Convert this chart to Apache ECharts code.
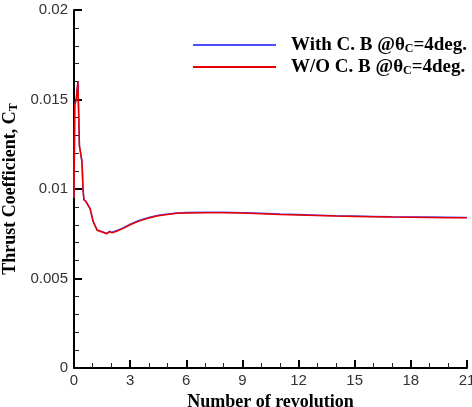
<!DOCTYPE html>
<html>
<head>
<meta charset="utf-8">
<script src="https://cdn.jsdelivr.net/npm/echarts@6/dist/echarts.min.js"></script>
<style>
  html, body { margin: 0; padding: 0; background: #fff; }
  #chart { width: 472px; height: 407px; }
</style>
</head>
<body>
<div id="chart"></div>
<script>
  // revolutions (x) and thrust coefficient
  const revs = [0, 0.04, 0.12, 0.21, 0.29, 0.34, 0.37, 0.43, 0.48, 0.53, 0.64, 0.75, 0.86, 1.02, 1.23, 1.5, 1.76, 1.9, 2.03, 2.3, 2.57,
    3, 3.5, 4, 4.5, 5, 5.5, 6, 7, 8, 9, 10, 11, 12, 13, 14, 15, 16, 17, 18, 19, 20, 21];
  const ctWithout = [0.0095, 0.0147, 0.0150, 0.0160, 0.0124, 0.0121, 0.0120, 0.0115, 0.0100, 0.0094, 0.0093, 0.0091, 0.0089, 0.0082, 0.0077, 0.0076, 0.0075, 0.00762, 0.00755, 0.00765, 0.00777,
    0.0080, 0.00822, 0.00838, 0.0085, 0.00858, 0.00864, 0.00866, 0.00868, 0.00868, 0.00866, 0.00862, 0.00858, 0.00855, 0.00852, 0.00849, 0.00847, 0.00845, 0.00843, 0.00842, 0.00841, 0.0084, 0.00839];
  const ctWith = [0.0095, 0.0147, 0.0150, 0.0160, 0.0124, 0.0121, 0.0120, 0.0115, 0.0100, 0.0094, 0.0093, 0.0091, 0.0089, 0.0082, 0.00772, 0.00762, 0.00752, 0.00764, 0.00758, 0.00768, 0.0078,
    0.00803, 0.00826, 0.00841, 0.00853, 0.00861, 0.00866, 0.00869, 0.0087, 0.0087, 0.00868, 0.00865, 0.0086, 0.00857, 0.00854, 0.00851, 0.00849, 0.00847, 0.00845, 0.00844, 0.00843, 0.00842, 0.00841];
  const xTicks = [0, 3, 6, 9, 12, 15, 18, 21];
  const yTicks = [0, 0.005, 0.01, 0.015, 0.02];

  const serif = '"Liberation Serif", "Times New Roman", serif';
  const sans = '"Liberation Sans", Arial, sans-serif';
  const subStyle = { fontFamily: serif, fontWeight: 'bold', fontSize: 12, padding: [7, 0, 0, 0] };

  const chart = echarts.init(document.getElementById('chart'));
  chart.setOption({
    animation: false,
    grid: { left: 74, right: 5, top: 10, bottom: 39, containLabel: false, outerBoundsMode: 'none' },
    legend: {
      orient: 'vertical',
      left: 192,
      top: 35,
      padding: 0,
      itemWidth: 83,
      itemHeight: 2,
      itemGap: 2,
      formatter: name => name.replace('θC', 'θ{s|C}'),
      textStyle: {
        fontFamily: serif, fontWeight: 'bold', fontSize: 19, color: '#000',
        lineHeight: 20, padding: [0, 0, 0, 10],
        rich: { s: subStyle }
      }
    },
    xAxis: {
      type: 'value',
      min: xTicks[0],
      max: xTicks[xTicks.length - 1],
      interval: 3,
      name: 'Number of revolution',
      nameLocation: 'middle',
      nameGap: 18,
      nameTextStyle: { fontFamily: serif, fontWeight: 'bold', fontSize: 18, color: '#000' },
      axisLine: { lineStyle: { color: '#000', width: 2 } },
      axisTick: { inside: true, length: 8, lineStyle: { color: '#000', width: 2 } },
      minorTick: { show: true, splitNumber: 3, length: 5, lineStyle: { color: '#222', width: 1 } },
      splitLine: { show: false },
      axisLabel: { fontFamily: sans, fontSize: 15, color: '#333', margin: 5 }
    },
    yAxis: {
      type: 'value',
      min: yTicks[0],
      max: yTicks[yTicks.length - 1],
      interval: 0.005,
      name: 'Thrust Coefficient, C{s|T}',
      nameLocation: 'middle',
      nameGap: 50,
      nameTextStyle: { fontFamily: serif, fontWeight: 'bold', fontSize: 18, color: '#000', rich: { s: subStyle } },
      axisLine: { show: true, lineStyle: { color: '#000', width: 2 } },
      axisTick: { show: true, inside: true, length: 8, lineStyle: { color: '#000', width: 2 } },
      minorTick: { show: true, splitNumber: 5, length: 5, lineStyle: { color: '#222', width: 1 } },
      splitLine: { show: false },
      axisLabel: {
        fontFamily: sans, fontSize: 15, color: '#333', margin: 6,
        formatter: v => String(parseFloat(v.toFixed(4)))
      }
    },
    series: [
      {
        name: 'With C. B @θC=4deg.',
        type: 'line',
        symbol: 'none',
        data: revs.map((r, i) => [r, ctWith[i]]),
        lineStyle: { color: '#4b4bff', width: 1.5 },
        itemStyle: { color: '#4b4bff' }
      },
      {
        name: 'W/O C. B @θC=4deg.',
        type: 'line',
        symbol: 'none',
        data: revs.map((r, i) => [r, ctWithout[i]]),
        lineStyle: { color: '#e80000', width: 1.5 },
        itemStyle: { color: '#c00000' }
      }
    ]
  });
</script>
</body>
</html>
